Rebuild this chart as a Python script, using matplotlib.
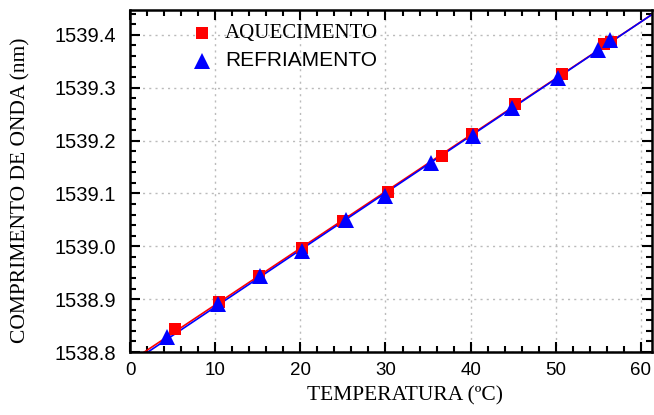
import matplotlib
matplotlib.use("Agg")
import matplotlib.pyplot as plt
import numpy as np
from matplotlib.ticker import MultipleLocator

# pontos: aquecimento (quadrados) e refriamento (triangulos)
aq_temp = [5.3, 10.4, 15.1, 20.2, 25.0, 30.3, 36.6, 40.2, 45.2, 50.7, 55.7, 56.5]
aq_lambda = [1538.843, 1538.895, 1538.944, 1538.996, 1539.047, 1539.102,
             1539.171, 1539.212, 1539.270, 1539.325, 1539.383, 1539.386]
re_temp = [4.4, 10.3, 15.3, 20.15, 25.4, 29.9, 35.4, 40.3, 44.8, 50.2, 55.0, 56.4]
re_lambda = [1538.828, 1538.890, 1538.944, 1538.992, 1539.050, 1539.096,
             1539.157, 1539.209, 1539.262, 1539.318, 1539.372, 1539.390]

serif = ["Liberation Serif", "DejaVu Serif"]
sans = ["Liberation Sans", "DejaVu Sans"]

fig = plt.figure(figsize=(6.54, 4.15), dpi=100)
ax = fig.add_axes([0.1988, 0.1518, 0.7982, 0.8241])

# ajustes lineares
xfit = np.array([0, 64])
p_aq = np.polyfit(aq_temp, aq_lambda, 1)
p_re = np.polyfit(re_temp, re_lambda, 1)
ax.plot(xfit, np.polyval(p_aq, xfit), color="#ff0000", lw=1.2, zorder=2)
ax.plot(xfit, np.polyval(p_re, xfit), color="#0000ff", lw=1.2, zorder=2)

ax.plot(aq_temp, aq_lambda, "s", color="#ff0000", ms=9, mew=0,
        label="AQUECIMENTO", zorder=3)
ax.plot(re_temp, re_lambda, "^", color="#0000ff", ms=11, mew=0,
        label="REFRIAMENTO", zorder=4)

ax.set_xlim(0, 61.3)
ax.set_ylim(1538.8, 1539.447)
ax.xaxis.set_major_locator(MultipleLocator(10))
ax.xaxis.set_minor_locator(MultipleLocator(2))
ax.yaxis.set_major_locator(MultipleLocator(0.1))
ax.yaxis.set_minor_locator(MultipleLocator(0.02))
ax.yaxis.set_major_formatter(plt.FormatStrFormatter("%.1f"))

ax.tick_params(which="both", direction="in", top=True, right=True, width=1.5)
ax.tick_params(which="major", length=7)
ax.tick_params(which="minor", length=4)
ax.tick_params(axis="x", pad=7)
ax.tick_params(axis="y", pad=10)
for lab in ax.get_xticklabels():
    lab.set_family(sans)
    lab.set_fontsize(13.5)
for lab in ax.get_yticklabels():
    lab.set_family(sans)
    lab.set_fontsize(14.5)
for sp in ax.spines.values():
    sp.set_linewidth(1.8)

ax.grid(True, which="major", color="#bbbbbb", linestyle=(0, (1.5, 3)), lw=1)
ax.set_axisbelow(True)

ax.set_xlabel("TEMPERATURA (ºC)", family=serif, fontsize=15.5)
ax.xaxis.set_label_coords(0.527, -0.10)
ax.set_ylabel("COMPRIMENTO DE ONDA (nm)", family=serif, fontsize=15.5)
ax.yaxis.set_label_coords(-0.19, 0.474)

leg = ax.legend(loc="upper left", bbox_to_anchor=(0.1, 0.995), frameon=False,
                handletextpad=1.2, labelspacing=0.55, handlelength=1.0)
leg.get_texts()[0].set_family(serif)
leg.get_texts()[0].set_fontsize(15)
leg.get_texts()[1].set_family(sans)
leg.get_texts()[1].set_fontsize(15)

fig.savefig("out.png", dpi=100)
